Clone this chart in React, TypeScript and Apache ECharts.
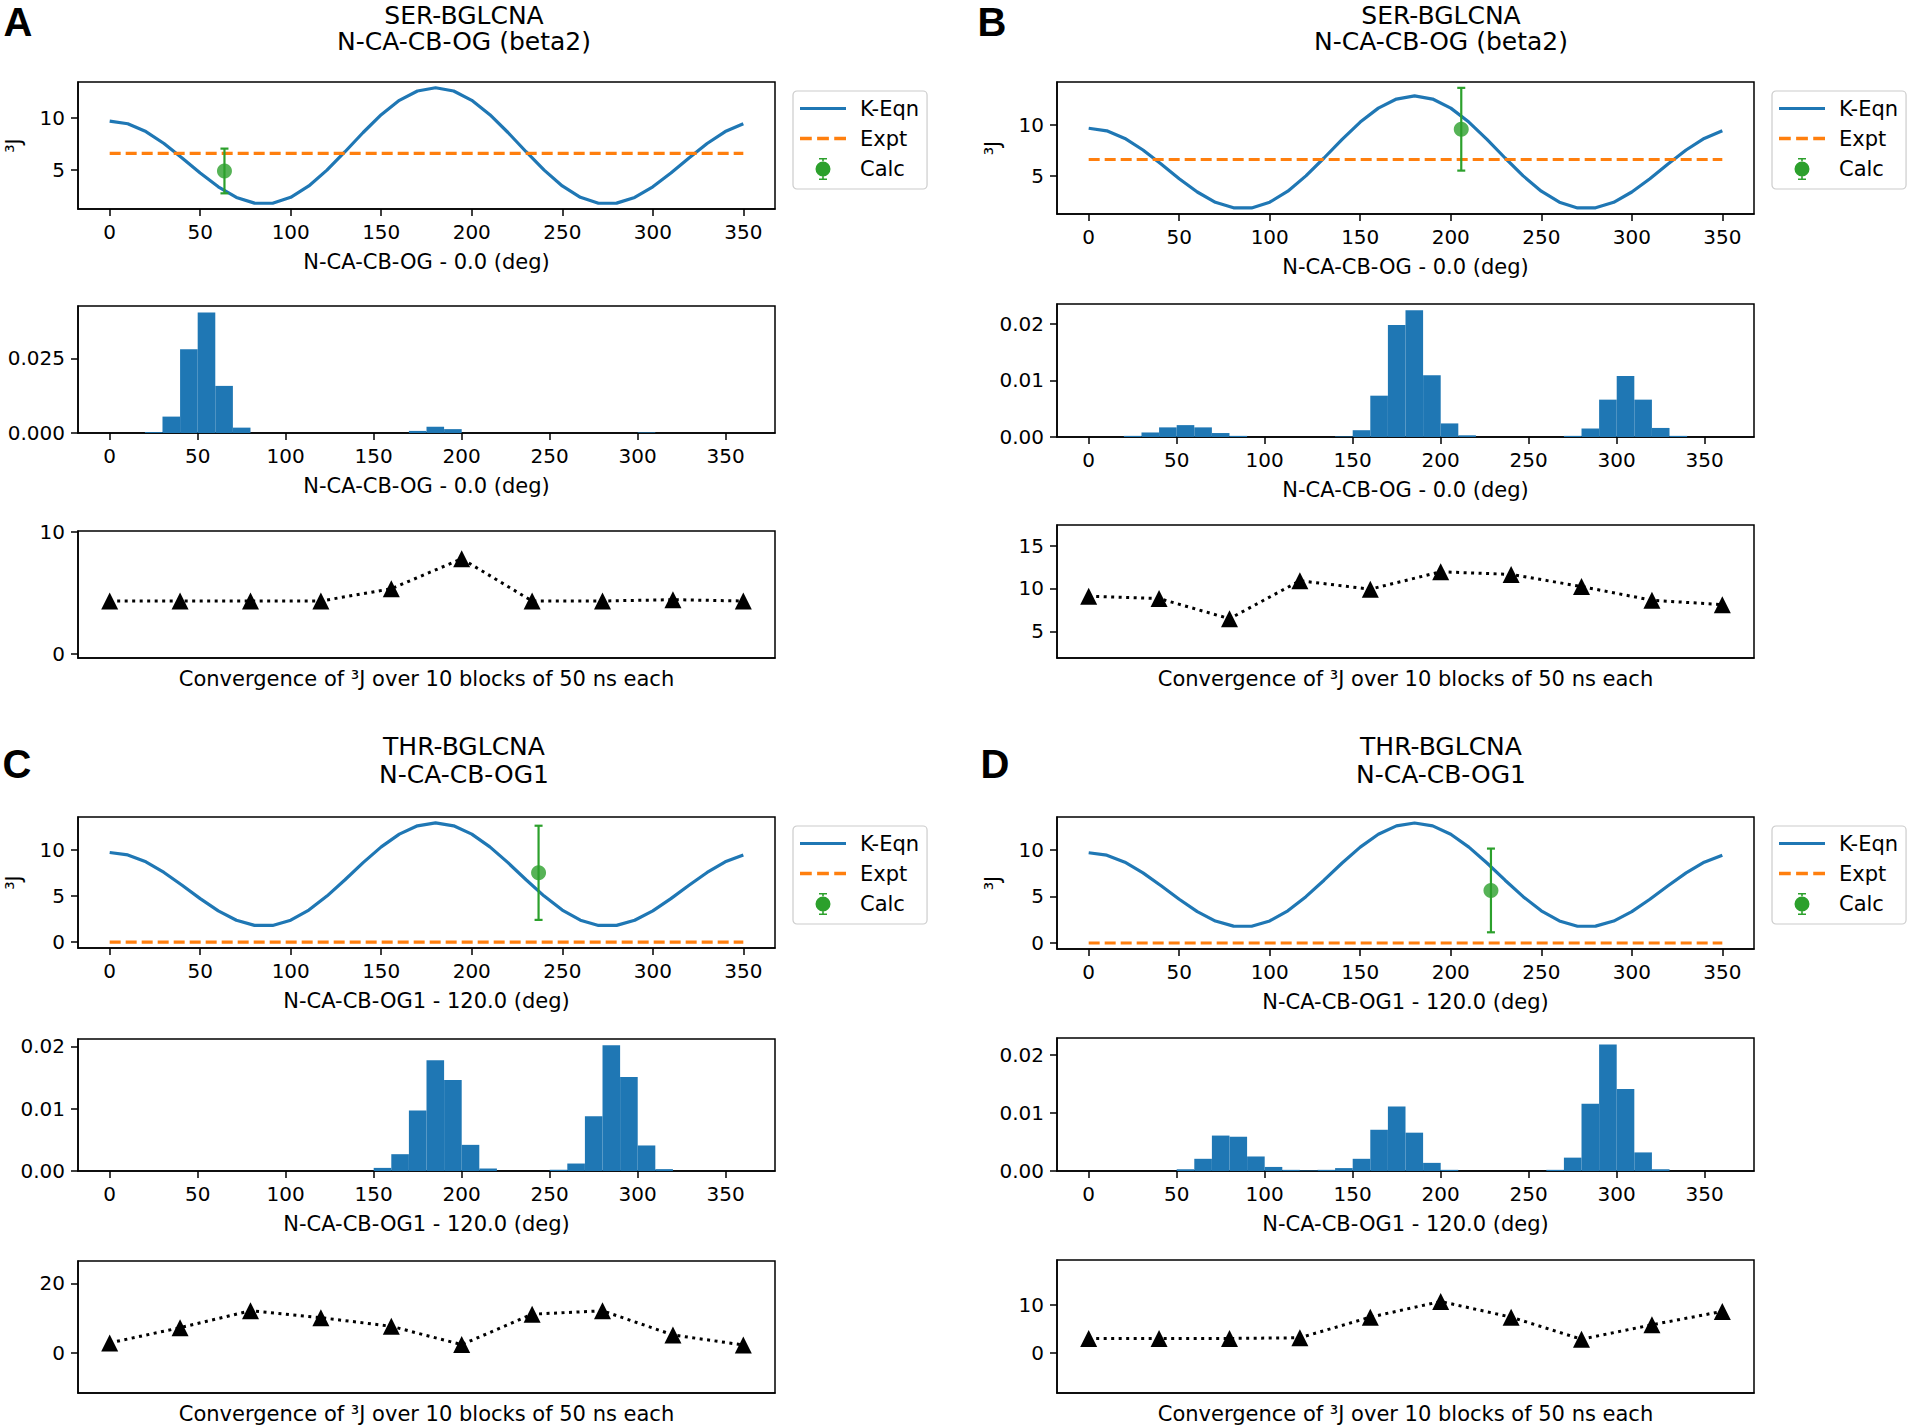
import React, { useEffect, useRef } from 'react';
import * as echarts from 'echarts';

// ---------- data ----------
const ANGLES = [0, 10, 20, 30, 40, 50, 60, 70, 80, 90, 100, 110, 120, 130, 140, 150, 160, 170, 180, 190, 200, 210, 220, 230, 240, 250, 260, 270, 280, 290, 300, 310, 320, 330, 340, 350];
const K_EQN = [9.7, 9.44, 8.69, 7.54, 6.15, 4.7, 3.38, 2.36, 1.81, 1.8, 2.37, 3.46, 4.98, 6.75, 8.6, 10.31, 11.69, 12.59, 12.9, 12.59, 11.69, 10.31, 8.6, 6.75, 4.98, 3.46, 2.37, 1.8, 1.81, 2.36, 3.38, 4.7, 6.15, 7.54, 8.69, 9.44];

const EXPT = [6.6, 6.6, 0, 0];
const CALC_ANGLE = [63.4, 205.8, 236.9, 222.2];
const CALC_J = [4.9, 9.6, 7.5, 5.65];
const CALC_ERR = [2.15, 4.1, 5.1, 4.5];

const BIN_EDGES = [0, 10, 20, 30, 40, 50, 60, 70, 80, 90, 100, 110, 120, 130, 140, 150, 160, 170, 180, 190, 200, 210, 220, 230, 240, 250, 260, 270, 280, 290, 300, 310, 320, 330, 340, 350, 360];
const HIST_A = [0, 0, 0.0003, 0.0055, 0.0281, 0.0404, 0.0158, 0.0018, 0, 0, 0, 0, 0, 0, 0, 0, 0, 0.0007, 0.0021, 0.0013, 0, 0, 0, 0, 0, 0, 0, 0, 0, 0, 0.0002, 0, 0, 0, 0, 0];
const HIST_B = [0, 0, 0.0002, 0.0008, 0.0017, 0.0021, 0.0017, 0.0007, 0.0002, 0, 0, 0, 0, 0, 0.0001, 0.0012, 0.0073, 0.0198, 0.0224, 0.0109, 0.0024, 0.0003, 0, 0, 0, 0, 0, 0.0002, 0.0015, 0.0066, 0.0108, 0.0066, 0.0016, 0.0002, 0, 0];
const HIST_C = [0, 0, 0, 0, 0, 0, 0, 0, 0, 0, 0, 0, 0, 0, 0, 0.0005, 0.0027, 0.0097, 0.0178, 0.0146, 0.0042, 0.0004, 0, 0, 0, 0.0002, 0.0012, 0.0088, 0.0202, 0.0151, 0.0041, 0.0003, 0, 0, 0, 0];
const HIST_D = [0, 0, 0, 0, 0, 0.0003, 0.0021, 0.0061, 0.0059, 0.0025, 0.0007, 0.0002, 0.0001, 0.0002, 0.0005, 0.0021, 0.0071, 0.0111, 0.0066, 0.0014, 0.0002, 0, 0, 0, 0, 0, 0.0002, 0.0023, 0.0116, 0.0218, 0.0141, 0.0032, 0.0003, 0, 0, 0];
const HISTS = [HIST_A, HIST_B, HIST_C, HIST_D];

const BLOCKS = [0, 1, 2, 3, 4, 5, 6, 7, 8, 9];
const CONV_A = [4.33, 4.33, 4.33, 4.33, 5.34, 7.8, 4.33, 4.33, 4.44, 4.33];
const CONV_B = [9.1, 8.83, 6.48, 10.9, 9.92, 11.95, 11.64, 10.23, 8.63, 8.12];
const CONV_C = [2.8, 7.2, 12.1, 10.1, 7.6, 2.3, 11.1, 12.1, 5.1, 2.2];
const CONV_D = [3.06, 3.06, 3.06, 3.2, 7.5, 10.76, 7.5, 2.9, 5.9, 8.7];
const CONVS = [CONV_A, CONV_B, CONV_C, CONV_D];

// ---------- texts & ticks ----------
const PANEL_LETTERS = ['A', 'B', 'C', 'D'];
const TITLE_RESIDUE = ['SER-BGLCNA', 'SER-BGLCNA', 'THR-BGLCNA', 'THR-BGLCNA'];
const TITLE_DIHEDRAL = ['N-CA-CB-OG (beta2)', 'N-CA-CB-OG (beta2)', 'N-CA-CB-OG1', 'N-CA-CB-OG1'];
const X_LABELS = ['N-CA-CB-OG - 0.0 (deg)', 'N-CA-CB-OG - 0.0 (deg)', 'N-CA-CB-OG1 - 120.0 (deg)', 'N-CA-CB-OG1 - 120.0 (deg)'];
const CONV_LABEL = 'Convergence of ³J over 10 blocks of 50 ns each';
const Y_LABEL = '³J';
const LEGEND_NAMES = ['K-Eqn', 'Expt', 'Calc'];
const ANGLE_TICKS = [0, 50, 100, 150, 200, 250, 300, 350];
const TOP_Y_TICKS = [[5, 10], [5, 10], [0, 5, 10], [0, 5, 10]];
const HIST_Y_TICKS = [[0, 0.025], [0, 0.01, 0.02], [0, 0.01, 0.02], [0, 0.01, 0.02]];
const HIST_Y_DECIMALS = [3, 2, 2, 2];
const CONV_Y_TICKS = [[0, 10], [5, 10, 15], [0, 20], [0, 10]];

// axis ranges
const TOP_X_RANGE = [-17.5, 367.5];
const HIST_X_RANGE = [-18, 378];
const CONV_X_RANGE = [-0.45, 9.45];
const TOP_Y_RANGE = [[1.245, 13.455], [1.2, 14.28], [-0.645, 13.545], [-0.645, 13.545]];
const HIST_Y_MAX = [0.0426, 0.0235, 0.0212, 0.0229];
const CONV_Y_RANGE = [[-0.35, 10.08], [1.9, 17.4], [-11.7, 26.5], [-8.3, 19.4]];

// ---------- layout ----------
const LAYOUT = [
  { left: 78, width: 697, top: [82, 127], hist: [306, 127], conv: [531, 127], legend: [793, 91], title: [464, 15, 41], letter: [18, 2] },
  { left: 1057, width: 697, top: [82, 132], hist: [304, 133], conv: [525, 133], legend: [1772, 91], title: [1441, 15, 41], letter: [992, 2] },
  { left: 78, width: 697, top: [817, 131], hist: [1039, 132], conv: [1261, 132], legend: [793, 826], title: [464, 746, 774], letter: [17, 744] },
  { left: 1057, width: 697, top: [817, 132], hist: [1038, 133], conv: [1260, 133], legend: [1772, 826], title: [1441, 746, 774], letter: [995, 744] },
];

const FONT = 'DejaVu Sans';
const BLUE = '#1f77b4';
const ORANGE = '#ff7f0e';
const GREEN = '#2ca02c';

const ICON_LINE = 'path://M0,0H46V3.2H0Z';
const ICON_DASH = 'path://M0,0H11V3.2H0Z M16,0H27V3.2H16Z M32,0H43V3.2H32Z';
const ICON_CALC =
  'path://M19,0H27V1.6H23.8V4H22.2V1.6H19Z M19,22H27V20.4H23.8V18H22.2V20.4H19Z M15.5,11A7.5,7.5 0 1,0 30.5,11A7.5,7.5 0 1,0 15.5,11Z';

function xAxisDef(gridIndex: number, range: number[], ticks: number[] | null, name: string, nameGap: number) {
  return {
    type: 'value',
    gridIndex,
    position: 'bottom',
    min: range[0],
    max: range[1],
    axisLine: { show: true, onZero: false, lineStyle: { color: '#000', width: 1.5 } },
    axisTick: ticks
      ? { show: true, length: 7, lineStyle: { color: '#000', width: 1.5 }, customValues: ticks }
      : { show: false },
    axisLabel: ticks
      ? { show: true, customValues: ticks, margin: 13, fontSize: 20, color: '#000', fontFamily: FONT }
      : { show: false },
    splitLine: { show: false },
    name,
    nameLocation: 'middle',
    nameGap,
    nameTextStyle: { fontSize: 21, color: '#000', fontFamily: FONT },
  };
}

function yAxisDef(gridIndex: number, range: number[], ticks: number[], decimals: number, name?: string) {
  return {
    type: 'value',
    gridIndex,
    position: 'left',
    min: range[0],
    max: range[1],
    axisLine: { show: true, onZero: false, lineStyle: { color: '#000', width: 1.5 } },
    axisTick: { show: true, length: 7, lineStyle: { color: '#000', width: 1.5 }, customValues: ticks },
    axisLabel: {
      show: true,
      customValues: ticks,
      margin: 13,
      fontSize: 20,
      color: '#000',
      fontFamily: FONT,
      formatter: (v: number) => v.toFixed(decimals),
    },
    splitLine: { show: false },
    name: name || '',
    nameLocation: 'middle',
    nameGap: 54,
    nameTextStyle: { fontSize: 21, color: '#000', fontFamily: FONT },
  };
}

function buildOption() {
  const grids: any[] = [];
  const xAxes: any[] = [];
  const yAxes: any[] = [];
  const series: any[] = [];
  const legends: any[] = [];
  const graphics: any[] = [];

  LAYOUT.forEach((L, i) => {
    const gTop = i * 3;
    const gHist = i * 3 + 1;
    const gConv = i * 3 + 2;
    [L.top, L.hist, L.conv].forEach((r) => {
      grids.push({
        left: L.left,
        width: L.width,
        top: r[0],
        height: r[1],
        show: true,
        borderColor: '#000',
        borderWidth: 1.5,
        backgroundColor: 'transparent',
      });
    });

    xAxes.push(xAxisDef(gTop, TOP_X_RANGE, ANGLE_TICKS, X_LABELS[i], 42));
    xAxes.push(xAxisDef(gHist, HIST_X_RANGE, ANGLE_TICKS, X_LABELS[i], 42));
    xAxes.push(xAxisDef(gConv, CONV_X_RANGE, null, CONV_LABEL, 10));

    yAxes.push(yAxisDef(gTop, TOP_Y_RANGE[i], TOP_Y_TICKS[i], 0, Y_LABEL));
    yAxes.push(yAxisDef(gHist, [0, HIST_Y_MAX[i]], HIST_Y_TICKS[i], HIST_Y_DECIMALS[i]));
    yAxes.push(yAxisDef(gConv, CONV_Y_RANGE[i], CONV_Y_TICKS[i], 0));

    series.push({
      name: 'K-Eqn',
      type: 'line',
      xAxisIndex: gTop,
      yAxisIndex: gTop,
      data: ANGLES.map((a, k) => [a, K_EQN[k]]),
      symbol: 'none',
      color: BLUE,
      lineStyle: { color: BLUE, width: 3.2 },
      z: 2,
    });
    series.push({
      name: 'Expt',
      type: 'line',
      xAxisIndex: gTop,
      yAxisIndex: gTop,
      data: [
        [ANGLES[0], EXPT[i]],
        [ANGLES[ANGLES.length - 1], EXPT[i]],
      ],
      symbol: 'none',
      color: ORANGE,
      lineStyle: { color: ORANGE, width: 3.2, type: [11, 5] },
      z: 3,
    });
    series.push({
      name: 'Calc',
      type: 'custom',
      xAxisIndex: gTop,
      yAxisIndex: gTop,
      itemStyle: { color: GREEN },
      color: GREEN,
      data: [[CALC_ANGLE[i], CALC_J[i] - CALC_ERR[i], CALC_J[i] + CALC_ERR[i]]],
      encode: { x: 0, y: [1, 2] },
      z: 4,
      renderItem: (params: any, api: any) => {
        const x = api.value(0);
        const top = api.coord([x, api.value(2)]);
        const bot = api.coord([x, api.value(1)]);
        const cap = 4;
        const st = { stroke: GREEN, lineWidth: 2.2 };
        return {
          type: 'group',
          children: [
            { type: 'line', shape: { x1: top[0], y1: top[1], x2: bot[0], y2: bot[1] }, style: st },
            { type: 'line', shape: { x1: top[0] - cap, y1: top[1], x2: top[0] + cap, y2: top[1] }, style: st },
            { type: 'line', shape: { x1: bot[0] - cap, y1: bot[1], x2: bot[0] + cap, y2: bot[1] }, style: st },
          ],
        };
      },
    });
    series.push({
      name: 'Calc',
      type: 'scatter',
      xAxisIndex: gTop,
      yAxisIndex: gTop,
      data: [[CALC_ANGLE[i], CALC_J[i]]],
      symbol: 'circle',
      symbolSize: 15,
      itemStyle: { color: GREEN },
      z: 5,
    });

    const hist = HISTS[i];
    series.push({
      name: 'hist' + i,
      type: 'custom',
      xAxisIndex: gHist,
      yAxisIndex: gHist,
      data: hist.map((v, k) => [BIN_EDGES[k], BIN_EDGES[k + 1], v]),
      encode: { x: [0, 1], y: 2 },
      renderItem: (params: any, api: any) => {
        const p0 = api.coord([api.value(0), api.value(2)]);
        const p1 = api.coord([api.value(1), 0]);
        return {
          type: 'rect',
          shape: { x: p0[0], y: p0[1], width: p1[0] - p0[0], height: p1[1] - p0[1] },
          style: { fill: BLUE },
        };
      },
    });

    const conv = CONVS[i];
    series.push({
      name: 'conv' + i,
      type: 'line',
      xAxisIndex: gConv,
      yAxisIndex: gConv,
      data: BLOCKS.map((b, k) => [b, conv[k]]),
      symbol: 'triangle',
      symbolSize: 17,
      itemStyle: { color: '#000' },
      lineStyle: { color: '#000', width: 3, type: [3, 4.5] },
    });

    legends.push({
      orient: 'vertical',
      left: L.legend[0],
      top: L.legend[1],
      itemWidth: 46,
      itemHeight: 22,
      itemGap: 9,
      padding: [7, 8, 9, 7],
      backgroundColor: '#fff',
      borderColor: '#cccccc',
      borderWidth: 1.2,
      borderRadius: 4,
      selectedMode: false,
      itemStyle: { borderWidth: 0 },
      textStyle: { fontSize: 21, color: '#000', fontFamily: FONT, padding: [0, 0, 0, 9] },
      data: [
        { name: LEGEND_NAMES[0], icon: ICON_LINE },
        { name: LEGEND_NAMES[1], icon: ICON_DASH },
        { name: LEGEND_NAMES[2], icon: ICON_CALC },
      ],
    });

    const titleStyle = {
      fontSize: 25,
      fontFamily: FONT,
      fill: '#000',
      textAlign: 'center',
      textVerticalAlign: 'middle',
      align: 'center',
      verticalAlign: 'middle',
    };
    graphics.push({
      type: 'text',
      x: L.title[0],
      y: L.title[1],
      silent: true,
      style: { ...titleStyle, text: TITLE_RESIDUE[i] },
    });
    graphics.push({
      type: 'text',
      x: L.title[0],
      y: L.title[2],
      silent: true,
      style: { ...titleStyle, text: TITLE_DIHEDRAL[i] },
    });
    graphics.push({
      type: 'text',
      x: L.letter[0],
      y: L.letter[1],
      silent: true,
      style: {
        text: PANEL_LETTERS[i],
        fontSize: 40,
        fontWeight: 'bold',
        fontFamily: 'Liberation Sans',
        fill: '#000',
        textAlign: 'center',
        textVerticalAlign: 'top',
        align: 'center',
        verticalAlign: 'top',
      },
    });
  });

  return {
    animation: false,
    backgroundColor: '#fff',
    textStyle: { fontFamily: FONT },
    grid: grids,
    xAxis: xAxes,
    yAxis: yAxes,
    legend: legends,
    series,
    graphic: { elements: graphics },
  };
}

export default function App() {
  const ref = useRef<HTMLDivElement>(null);
  useEffect(() => {
    document.body.style.margin = '0';
    if (!ref.current) return;
    const chart = echarts.init(ref.current, null, { renderer: 'svg' });
    chart.setOption(buildOption() as any);
    return () => {
      chart.dispose();
    };
  }, []);
  return <div ref={ref} style={{ width: 1910, height: 1426 }} />;
}
